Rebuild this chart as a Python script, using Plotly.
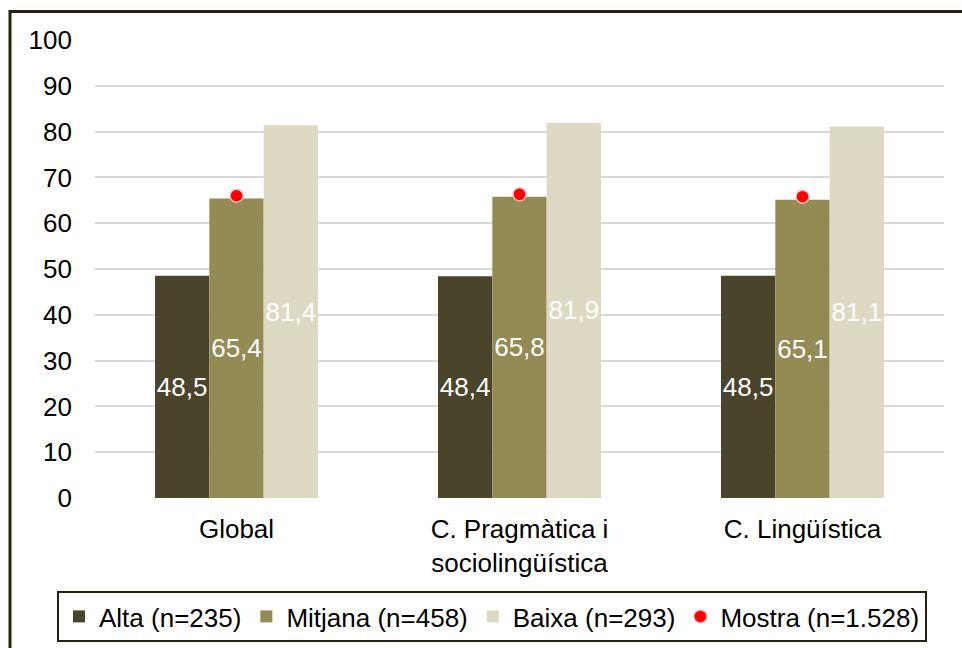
import plotly.graph_objects as go

categories = ["Global", "C. Pragmàtica i<br>sociolingüística", "C. Lingüística"]
alta = [48.5, 48.4, 48.5]
mitjana = [65.4, 65.8, 65.1]
baixa = [81.4, 81.9, 81.1]
mostra = [66.0, 66.3, 65.8]
y_ticks = [0, 10, 20, 30, 40, 50, 60, 70, 80, 90, 100]

FONT = "Liberation Sans, Arial, sans-serif"
FS = 26

fig = go.Figure()
for name, vals, col in [("Alta (n=235)", alta, "#4a442a"),
                        ("Mitjana (n=458)", mitjana, "#948a54"),
                        ("Baixa (n=293)", baixa, "#ddd9c3")]:
    fig.add_trace(go.Bar(
        x=categories, y=vals, name=name,
        marker=dict(color=col, line=dict(width=0)),
        texttemplate="%{y:.1f}", textposition="inside",
        insidetextanchor="middle", textangle=0,
        insidetextfont=dict(color="white", size=FS, family=FONT),
        cliponaxis=False,
    ))

fig.add_trace(go.Scatter(
    x=categories, y=mostra, name="Mostra (n=1.528)", mode="markers",
    marker=dict(color="#ff0000", size=13, line=dict(color="#f6c4bc", width=1.5)),
))

W, H = 962, 648
L, R, T, B = 95, 18, 40, 150
pw, ph = W - L - R, H - T - B

def px_x(p):
    return (p - L) / pw

def px_y(p):
    return (H - B - p) / ph

fig.update_layout(
    width=W, height=H,
    margin=dict(l=L, r=R, t=T, b=B, pad=0, autoexpand=False),
    paper_bgcolor="white", plot_bgcolor="white",
    separators=",.",
    barmode="group", bargap=0.424, bargroupgap=0,
    uniformtext=dict(minsize=FS, mode="show"),
    font=dict(family=FONT, size=FS, color="#000000"),
    showlegend=True,
    legend=dict(
        orientation="h", x=px_x(57), y=px_y(591), xanchor="left", yanchor="top",
        bordercolor="#262212", borderwidth=2, bgcolor="white",
        font=dict(family=FONT, size=FS, color="#000000"),
        itemwidth=30, tracegroupgap=0,
    ),
    xaxis=dict(showgrid=False, showline=False, zeroline=False, ticks="",
               automargin=False, ticklabelstandoff=13,
               tickfont=dict(family=FONT, size=FS, color="#000000")),
    yaxis=dict(range=[0, 100], tickvals=y_ticks, showgrid=True,
               gridcolor="#d9d9d9", gridwidth=2, zeroline=False, showline=False,
               ticks="", ticklabelstandoff=22, automargin=False,
               tickfont=dict(family=FONT, size=FS, color="#000000")),
    shapes=[dict(type="rect", xref="paper", yref="paper",
                 x0=px_x(10), x1=px_x(1010), y0=px_y(11.5), y1=px_y(720),
                 line=dict(color="#262212", width=3), fillcolor="rgba(0,0,0,0)",
                 layer="above")],
)

fig.write_html(
    "out.html",
    config={"displayModeBar": False},
    post_script="document.body.style.margin='0';document.body.style.padding='0';",
)
